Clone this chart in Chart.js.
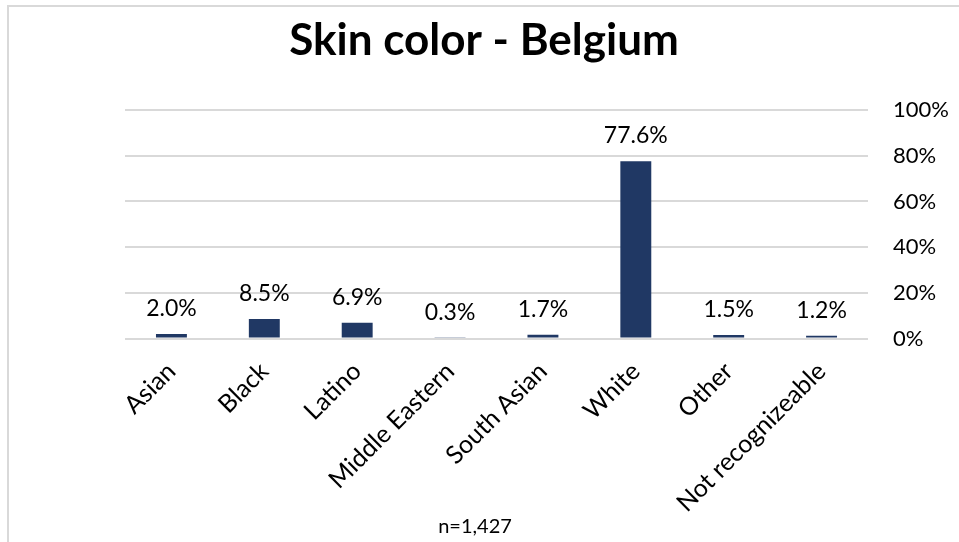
<!DOCTYPE html>
<html><head><meta charset="utf-8">
<script src="https://cdn.jsdelivr.net/npm/chart.js@4/dist/chart.umd.min.js"></script>
<style>html,body{margin:0;padding:0;background:#fff;overflow:hidden}#wrap{width:959px;height:542px;position:relative}</style>
</head><body><div id="wrap"><canvas id="c" width="959" height="542"></canvas></div>
<script>
const categories = ["Asian","Black","Latino","Middle Eastern","South Asian","White","Other","Not recognizeable"];
const values = [2.0, 8.5, 6.9, 0.3, 1.7, 77.6, 1.5, 1.2];
const yTicks = [0, 20, 40, 60, 80, 100];
const titleText = "Skin color - Belgium";
const noteText = "n=1,427";

const FONT = "Lato, 'Open Sans', sans-serif";

const frame = {
  id: 'frame',
  beforeDraw(chart) {
    const ctx = chart.ctx;
    ctx.save();
    ctx.fillStyle = '#fff';
    ctx.fillRect(0,0,chart.width,chart.height);
    ctx.strokeStyle = '#d9d9d9';
    ctx.lineWidth = 2;
    ctx.strokeRect(8, 6, 2000, 2000);
    ctx.restore();
  },
  afterDraw(chart) {
    const ctx = chart.ctx;
    ctx.save();
    ctx.fillStyle = '#000';
    ctx.textAlign = 'center';
    ctx.textBaseline = 'alphabetic';
    ctx.font = "bold 44px " + FONT;
    ctx.fillText(titleText, 484, 55);
    ctx.font = "20px " + FONT;
    ctx.fillText(noteText, 475, 533);
    ctx.restore();
  }
};
const labels = {
  id: 'labels',
  afterDatasetsDraw(chart) {
    const ctx = chart.ctx;
    const meta = chart.getDatasetMeta(0);
    ctx.save();
    ctx.font = "23px " + FONT;
    ctx.fillStyle = '#000';
    ctx.textAlign = 'center';
    ctx.textBaseline = 'alphabetic';
    meta.data.forEach((bar, i) => {
      ctx.fillText(values[i].toFixed(1) + '%', bar.x, bar.y - 18);
    });
    ctx.restore();
  }
};

new Chart(document.getElementById('c'), {
  type: 'bar',
  data: {
    labels: categories,
    datasets: [{
      data: values,
      backgroundColor: '#203864',
      borderWidth: 0,
      barPercentage: 0.333,
      categoryPercentage: 1.0
    }]
  },
  options: {
    responsive: false,
    animation: false,
    layout: { padding: { left: 125, right: 9, top: 110, bottom: 6 } },
    plugins: {
      legend: { display: false },
      tooltip: { enabled: false },
      title: { display: false },
      subtitle: { display: false }
    },
    scales: {
      x: {
        afterFit(axis) { axis.paddingLeft = 0; axis.paddingRight = 0; },
        grid: { display: false, drawTicks: false },
        border: { display: false },
        ticks: { color: '#000', font: { family: FONT, size: 25 }, minRotation: 45, maxRotation: 45, padding: 18, autoSkip: false }
      },
      y: {
        position: 'right',
        min: 0, max: 100,
        afterFit(axis) { axis.width = 82; },
        afterBuildTicks(axis) { axis.ticks = yTicks.map(v => ({ value: v })); },
        grid: { color: '#d9d9d9', lineWidth: 2, drawTicks: false },
        border: { display: false },
        ticks: { color: '#000', font: { family: FONT, size: 22 }, padding: 25, callback: v => v + '%' }
      }
    }
  },
  plugins: [frame, labels]
});
</script>
</body></html>
